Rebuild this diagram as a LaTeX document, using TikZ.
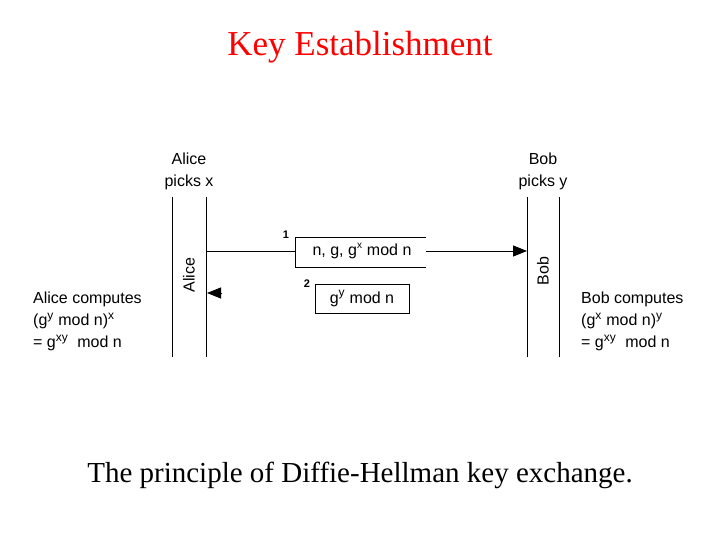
\documentclass[tikz,border=0pt]{standalone}
\usepackage{fontspec}
\setmainfont{Liberation Serif}
\newfontfamily\arial{Liberation Sans}
\usetikzlibrary{arrows.meta}
\tikzset{
  lbl/.style={font=\arial\fontsize{16}{22}\selectfont, inner sep=0pt, align=left},
  msg/.style={font=\arial\fontsize{16}{18}\selectfont, inner sep=0pt},
  num/.style={font=\arial\fontsize{11}{12}\selectfont\bfseries, inner sep=0pt},
  life/.style={line width=0.8pt},
  tip/.style={-{Triangle[length=14pt,width=11pt]}, line width=0.8pt}
}
\newcommand{\sps}[1]{$^{\mbox{\fontsize{12}{12}\selectfont #1}}$}
\begin{document}
\begin{tikzpicture}[x=1pt,y=-1pt]
\useasboundingbox (0,0) rectangle (720,540);
\node[text=red, font=\fontsize{35}{40}\selectfont] (title) at (360,47) {Key Establishment};
\node[font=\fontsize{29}{32}\selectfont] (cap) at (360,475) {The principle of Diffie-Hellman key exchange.};
% lifelines
\coordinate (a1t) at (172,197); \coordinate (a1b) at (172,357);
\coordinate (a2t) at (206,197); \coordinate (a2b) at (206,357);
\coordinate (b1t) at (527,197); \coordinate (b1b) at (527,357);
\coordinate (b2t) at (559,197); \coordinate (b2b) at (559,357);
\draw[life] (a1t)--(a1b); \draw[life] (a2t)--(a2b);
\draw[life] (b1t)--(b1b); \draw[life] (b2t)--(b2b);
\node[lbl, align=center] (alice) at (189,171) {Alice\\picks x};
\node[lbl, align=center] (bob) at (543,171) {Bob\\picks y};
\node[lbl, rotate=90] (aliceV) at (189,275) {Alice};
\node[lbl, rotate=90] (bobV) at (543,271) {Bob};
% message 1
\coordinate (m1a) at (206,251); \coordinate (m1b) at (295,251);
\coordinate (m1c) at (426,251); \coordinate (m1d) at (527,251);
\draw[life] (m1a)--(m1b);
\draw[life] (426,237)--(295,237)--(295,267)--(426,267);
\node[msg] (box1) at (362,251) {n, g, g$^{\mbox{\fontsize{10}{10}\selectfont x}}$ mod n};
\draw[tip] (m1c)--(m1d);
\node[num] (n1) at (286,235) {1};
% message 2
\node[draw, line width=0.8pt, minimum width=94pt, minimum height=29pt, msg] (box2) at (362,298.5) {g\sps{y} mod n};
\node[num] (n2) at (307,284) {2};
\coordinate (ah) at (222,293); \coordinate (at) at (207,293);
\draw[tip] (ah)--(at);
% computations
\node[lbl, anchor=north west] (ac) at (33,292) {Alice computes\\(g\sps{y} mod n)\sps{x}\\= g\sps{xy}\ \ mod n};
\node[lbl, anchor=north west] (bc) at (581,292) {Bob computes\\(g\sps{x} mod n)\sps{y}\\= g\sps{xy}\ \ mod n};
\end{tikzpicture}
\end{document}
